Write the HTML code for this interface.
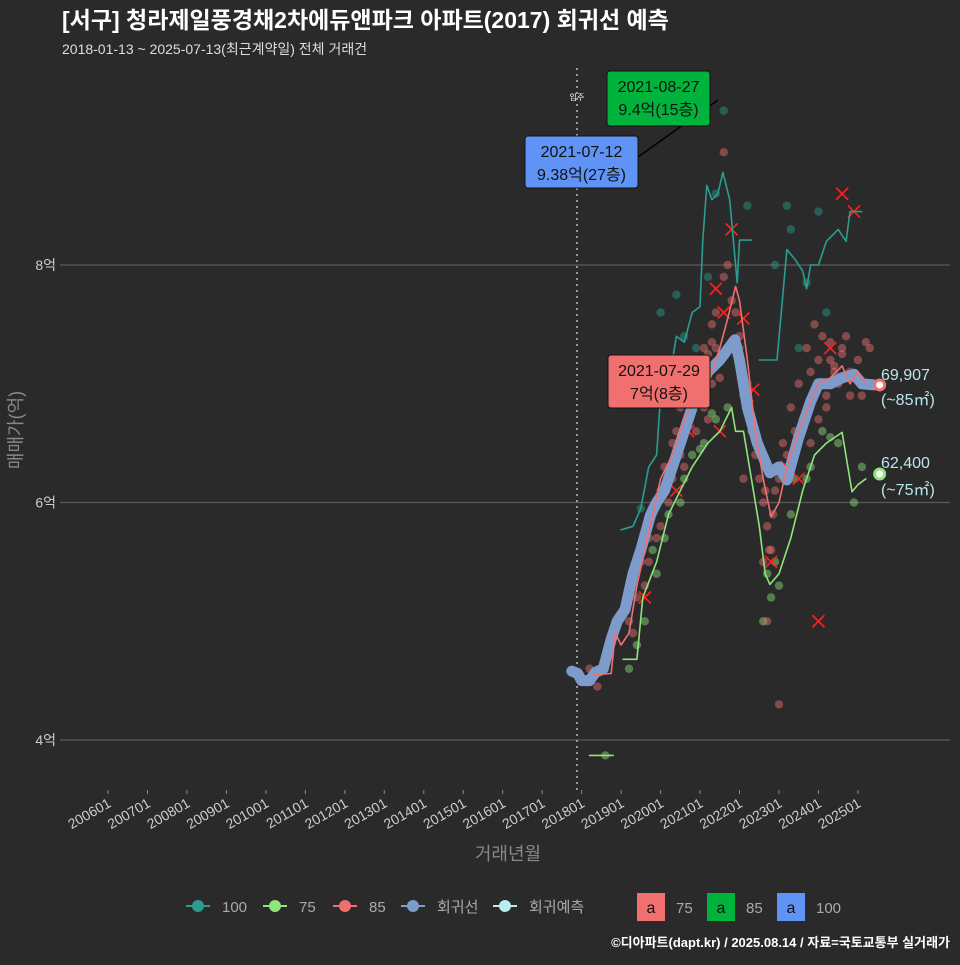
<!DOCTYPE html>
<html><head><meta charset="utf-8"><style>
body{margin:0;background:#2b2a2b;}
svg text{font-family:"Liberation Sans","Noto Sans CJK KR",sans-serif;}
</style></head><body>
<svg id="c" width="960" height="960" xmlns="http://www.w3.org/2000/svg">
<rect width="960" height="960" fill="#2b2a2b"/>
<text x="62" y="28" fill="#fff" font-size="23" font-weight="bold">[서구] 청라제일풍경채2차에듀앤파크 아파트(2017) 회귀선 예측</text>
<text x="62" y="54" fill="#ddd" font-size="14">2018-01-13 ~ 2025-07-13(최근계약일) 전체 거래건</text>
<g id="grid"></g><g id="marks"></g><g id="ann"></g>
<text transform="translate(22,430) rotate(-90)" text-anchor="middle" fill="#888" font-size="18">매매가(억)</text>
<text x="508" y="860" text-anchor="middle" fill="#888" font-size="18">거래년월</text>
<g id="legend"></g>
<text x="950" y="947" text-anchor="end" fill="#fff" font-size="13" font-weight="bold">©디아파트(dapt.kr) / 2025.08.14 / 자료=국토교통부 실거래가</text>
</svg>
<script>
const yTicks=[4,6,8];
const yLabels=["4억","6억","8억"];
const xYears=[2006,2007,2008,2009,2010,2011,2012,2013,2014,2015,2016,2017,2018,2019,2020,2021,2022,2023,2024,2025];
const trendT=[2017.75,2017.9,2018.0,2018.2,2018.35,2018.55,2018.75,2018.9,2019.1,2019.3,2019.5,2019.75,2019.9,2020.1,2020.4,2020.7,2020.9,2021.2,2021.5,2021.88,2022.0,2022.2,2022.45,2022.77,2023.0,2023.2,2023.5,2023.8,2024.0,2024.3,2024.6,2024.9,2025.1,2025.4];
const trendV=[4.58,4.56,4.5,4.5,4.57,4.6,4.85,5.0,5.1,5.4,5.6,5.9,6.0,6.1,6.4,6.7,6.9,7.1,7.2,7.37,7.2,6.8,6.5,6.25,6.3,6.19,6.55,6.85,7.0,7.0,7.05,7.08,7.0,6.99];
const redT=[2018.3,2018.75,2018.85,2019.0,2019.2,2019.4,2019.6,2019.8,2020.0,2020.3,2020.6,2020.9,2021.2,2021.5,2021.7,2021.9,2022.0,2022.2,2022.4,2022.6,2022.8,2023.0,2023.2,2023.5,2023.8,2024.0,2024.3,2024.6,2024.8,2025.0,2025.2];
const redV=[4.55,4.56,4.9,4.8,4.9,5.3,5.6,5.9,6.2,6.4,6.7,6.9,7.0,7.3,7.55,7.82,7.7,7.2,6.6,6.2,5.88,6.0,6.3,6.6,6.85,7.0,7.05,7.15,7.0,7.1,7.0];
const green1T=[2018.2,2018.8];
const green1V=[3.87,3.87];
const greenT=[2019.05,2019.4,2019.55,2019.9,2020.2,2020.5,2020.8,2021.2,2021.5,2021.8,2021.9,2022.1,2022.3,2022.5,2022.65,2022.77,2023.0,2023.3,2023.6,2023.9,2024.2,2024.6,2024.85,2025.0,2025.2];
const greenV=[4.68,4.68,5.2,5.5,5.9,6.1,6.3,6.5,6.6,6.8,6.6,6.6,6.2,5.8,5.4,5.31,5.4,5.7,6.1,6.4,6.5,6.59,6.09,6.15,6.2];
const tealAT=[2019.0,2019.3,2019.5,2019.7,2019.9,2020.0,2020.2,2020.4,2020.6,2020.8,2021.0,2021.07,2021.17,2021.3,2021.45,2021.58,2021.75,2021.94,2022.0,2022.3];
const tealAV=[5.77,5.8,5.95,6.3,6.4,6.9,7.0,7.4,7.35,7.6,7.65,8.21,8.67,8.55,8.6,8.78,8.55,7.85,8.21,8.21];
const tealBT=[2022.5,2022.95,2023.2,2023.4,2023.6,2023.7,2023.8,2024.0,2024.2,2024.5,2024.7,2024.8,2025.1];
const tealBV=[7.2,7.2,8.13,8.05,7.95,7.8,8.0,8.0,8.2,8.3,8.2,8.45,8.45];
const redPtsT=[2018.2,2018.4,2019.2,2019.4,2019.5,2019.7,2019.8,2020.0,2020.1,2020.3,2020.4,2020.5,2020.7,2020.8,2021.0,2021.1,2021.3,2021.4,2021.5,2021.6,2021.7,2021.9,2022.0,2022.2,2022.3,2022.5,2022.6,2022.7,2022.8,2022.9,2023.0,2023.1,2023.3,2023.5,2023.7,2023.9,2024.1,2024.3,2024.4,2024.6,2024.8,2025.0,2025.2,2021.6,2021.2,2022.1,2023.8,2024.2,
 2019.3,2019.6,2019.7,2019.9,2020.0,2020.2,2020.3,2020.5,2020.6,2020.9,2021.0,2021.1,2021.2,2021.3,2021.4,2021.5,2021.8,2022.0,2022.1,2022.3,2022.4,2022.6,2022.7,2022.75,2022.85,2023.0,2023.1,2023.2,2023.4,2023.6,2023.8,2024.0,2024.1,2024.2,2024.3,2024.4,2024.5,2024.6,2024.7,2024.9,2025.1,2025.3,2020.6,2020.8,2021.3,2024.0,2024.8,2022.65];
const redPtsV=[4.6,4.45,5.0,5.2,5.5,5.7,5.9,6.1,6.3,6.5,6.6,6.8,6.9,7.0,7.1,7.3,7.5,7.6,7.2,8.95,8.0,7.6,7.4,7.0,6.6,6.2,5.5,5.0,5.6,6.1,4.3,6.5,6.8,7.0,7.3,7.5,7.4,7.2,7.1,7.3,6.9,7.2,7.35,7.9,6.7,6.2,6.5,6.9,
 4.9,5.3,5.5,5.7,5.8,6.0,6.2,6.4,6.3,6.6,6.9,6.8,7.25,7.0,7.3,7.05,7.7,7.3,6.9,6.7,6.4,6.0,5.8,5.6,5.9,6.2,6.3,6.4,6.6,6.7,7.1,7.2,7.0,6.8,7.35,7.15,7.0,7.25,7.4,7.05,6.9,7.3,6.9,7.2,7.35,6.7,7.1,6.1];
const greenPtsT=[2018.6,2019.2,2019.6,2019.9,2020.2,2020.5,2020.8,2021.1,2021.4,2021.7,2022.6,2022.7,2022.8,2023.0,2023.4,2023.8,2024.1,2024.5,2024.9,2025.1,2019.4,2019.8,2020.1,2020.6,2021.0,2021.3,2022.9,2023.3,2023.7,2024.3];
const greenPtsV=[3.87,4.6,5.0,5.4,5.9,6.0,6.4,6.5,6.7,6.8,5.0,5.4,5.2,5.3,6.2,6.3,6.6,6.5,6.0,6.3,4.8,5.6,5.7,6.2,6.45,6.75,5.5,5.9,6.2,6.55];
const tealPtsT=[2019.5,2020.0,2020.4,2020.6,2020.9,2021.2,2021.4,2021.6,2022.2,2022.9,2023.2,2023.5,2023.7,2024.0,2024.2,2020.2,2023.3];
const tealPtsV=[5.95,7.6,7.75,7.4,7.3,7.9,8.6,9.3,8.5,8.0,8.5,7.3,7.85,8.45,7.6,7.0,8.3];
const xMarkT=[2019.6,2020.4,2020.7,2021.0,2021.4,2021.6,2021.8,2022.1,2022.2,2022.35,2022.8,2023.2,2023.5,2024.0,2024.3,2024.6,2024.9,2021.5];
const xMarkV=[5.2,6.1,6.6,7.1,7.8,7.6,8.3,7.55,6.9,6.95,5.5,6.3,6.2,5.0,7.3,8.6,8.45,6.6];

const X=t=>108+(t-2006)*39.47;
const Y=v=>740-(v-4)*118.75;
const NS="http://www.w3.org/2000/svg";
function mk(tag,attrs,parent){const e=document.createElementNS(NS,tag);for(const k in attrs)e.setAttribute(k,attrs[k]);parent.appendChild(e);return e;}
const grid=document.getElementById('grid'),marks=document.getElementById('marks');
yTicks.forEach((v,i)=>{
  const l=mk('line',{x1:60,x2:950,y1:Y(v),y2:Y(v),stroke:'#5a5a5a','stroke-width':1.2},grid);
  
  
  const t=mk('text',{x:56,y:Y(v)+5,'text-anchor':'end',fill:'#ccc','font-size':14},grid);
  t.textContent=yLabels[i];
  
  
});
xYears.forEach(yr=>{
  const x=X(yr);
  const tk=mk('line',{x1:x,x2:x,y1:790,y2:794,stroke:'#888'},grid);
  
  
  const t=mk('text',{transform:`translate(${x+4},${806}) rotate(-30)`,'text-anchor':'end',fill:'#ccc','font-size':14},grid);
  t.textContent=yr+'01';
  
  
});
const vl=mk('line',{x1:577,x2:577,y1:68,y2:790,stroke:'#bbb','stroke-dasharray':'2,4','stroke-width':1.5},grid);


const vt=mk('text',{x:577,y:100,'text-anchor':'middle',fill:'#fff','font-size':8},grid);vt.textContent='입주';



function pts(T,V,col,name){T.forEach((t,i)=>{const c=mk('circle',{cx:X(t),cy:Y(V[i]),r:4.2,fill:col,'fill-opacity':0.45},marks);
  
  });}
pts(tealPtsT,tealPtsV,'#2a9d8f','point-100');
pts(greenPtsT,greenPtsV,'#8ee57a','point-75');
pts(redPtsT,redPtsV,'#f07070','point-85');
xMarkT.forEach((t,i)=>{const x=X(t),y=Y(xMarkV[i]);const p=mk('path',{d:`M${x-6},${y-6}L${x+6},${y+6}M${x-6},${y+6}L${x+6},${y-6}`,stroke:'#ff2020','stroke-width':1.6},marks);
  
  });
function line(T,V,col,w,name){const d=T.map((t,i)=>(i?'L':'M')+X(t).toFixed(1)+','+Y(V[i]).toFixed(1)).join('');
  const p=mk('path',{d:d,fill:'none',stroke:col,'stroke-width':w,'stroke-linejoin':'round','stroke-linecap':'round'},marks);
  
  }
line(tealAT,tealAV,'#2a9d8f',1.6,'line-100');
line(tealBT,tealBV,'#2a9d8f',1.6,'line-100');
line(trendT,trendV,'#7d9ccc',11,'regression-line');
line(redT,redV,'#f07070',1.6,'line-85');
line(green1T,green1V,'#8ee57a',1.6,'line-75');
line(greenT,greenV,'#8ee57a',1.6,'line-75');
const c1=mk('circle',{cx:X(2025.55),cy:Y(6.99),r:5,fill:'#fff',stroke:'#f07070','stroke-width':3},marks);

const c2=mk('circle',{cx:X(2025.55),cy:Y(6.24),r:5,fill:'#fff',stroke:'#8ee57a','stroke-width':3},marks);

</script>
<script>
(function(){
const NS="http://www.w3.org/2000/svg";const ann=document.getElementById('ann');const leg=document.getElementById('legend');
function mk(tag,a,p){const e=document.createElementNS(NS,tag);for(const k in a)e.setAttribute(k,a[k]);p.appendChild(e);return e;}
const cl=mk('line',{x1:638,y1:157,x2:718,y2:100,stroke:'#000','stroke-width':1.5},ann);

function box(x,y,w,h,fill,l1,l2,name){const g=mk('g',{},ann);
  
  
  mk('rect',{x:x,y:y,width:w,height:h,rx:3,fill:fill,stroke:'#111'},g);
  const a=mk('text',{x:x+w/2,y:y+21,'text-anchor':'middle','font-size':16,fill:'#111'},g);a.textContent=l1;
  const b=mk('text',{x:x+w/2,y:y+44,'text-anchor':'middle','font-size':16,fill:'#111'},g);b.textContent=l2;}
box(607,71,103,55,'#00b33c','2021-08-27','9.4억(15층)','callout-max-85');
box(525,136,113,52,'#5f93f5','2021-07-12','9.38억(27층)','callout-max-100');
box(608,355,102,53,'#f07070','2021-07-29','7억(8층)','callout-max-75');
[['69,907',380,'label-85-price'],['(~85㎡)',405,'label-85-area'],['62,400',468,'label-75-price'],['(~75㎡)',495,'label-75-area']].forEach(d=>{
  const t=mk('text',{x:881,y:d[1],fill:'#b8e6ea','font-size':16},ann);t.textContent=d[0];
  });
const items=[['100','#2a9d8f',198],['75','#8ee57a',275],['85','#f07070',345],['회귀선','#7d9ccc',413],['회귀예측','#b8eef0',505]];
items.forEach(it=>{const g=mk('g',{},leg);
  
  
  mk('line',{x1:it[2]-12,x2:it[2]+12,y1:906,y2:906,stroke:it[1],'stroke-width':2},g);
  mk('circle',{cx:it[2],cy:906,r:6,fill:it[1]},g);
  const t=mk('text',{x:it[2]+24,y:912,fill:'#aaa','font-size':15},g);t.textContent=it[0];});
[['75','#f07070',637],['85','#00b33c',707],['100','#5f93f5',777]].forEach(it=>{const g=mk('g',{},leg);
  
  
  mk('rect',{x:it[2],y:893,width:28,height:28,fill:it[1]},g);
  const a=mk('text',{x:it[2]+14,y:913,'text-anchor':'middle',fill:'#111','font-size':16},g);a.textContent='a';
  const t=mk('text',{x:it[2]+39,y:913,fill:'#aaa','font-size':15},g);t.textContent=it[0];});
})();
</script>
</body></html>
